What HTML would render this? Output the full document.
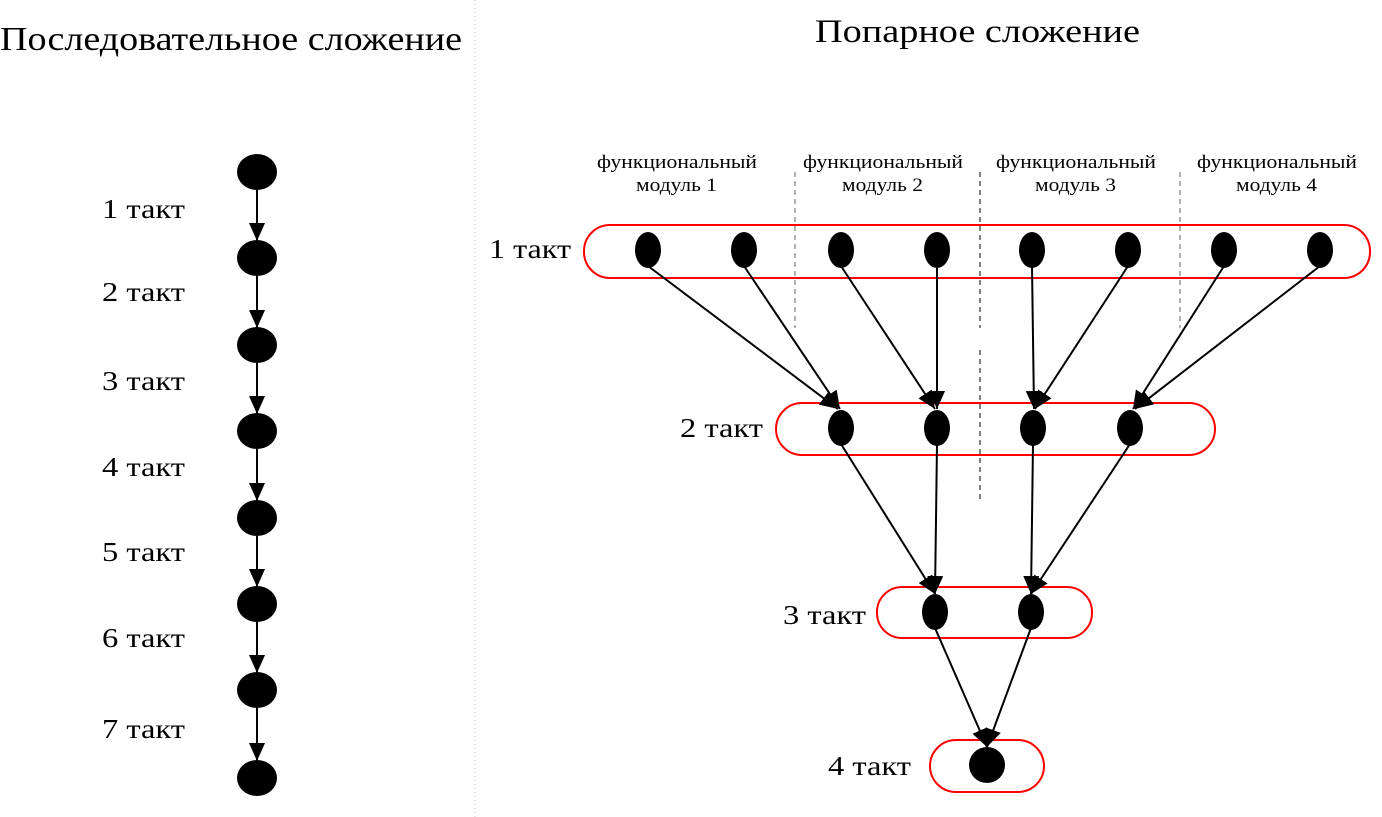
<!DOCTYPE html>
<html><head><meta charset="utf-8"><style>
body{margin:0;background:#fff}
svg{display:block;font-family:"Liberation Serif",serif}
</style></head><body>
<svg width="1382" height="817" viewBox="0 0 1382 817">
<defs>
<marker id="b" markerWidth="20" markerHeight="16" refX="18" refY="8" orient="auto" markerUnits="userSpaceOnUse"><path d="M0,0 L18,8 L0,16 z" fill="#000"/></marker></defs>
<line x1="475" y1="0" x2="475" y2="817" stroke="#ccc" stroke-dasharray="1,3"/>
<text x="0" y="50" font-size="34" textLength="462" lengthAdjust="spacingAndGlyphs">Последовательное сложение</text>
<text x="815" y="42" font-size="33" textLength="325" lengthAdjust="spacingAndGlyphs">Попарное сложение</text>
<g font-size="27">
<text x="102" y="218" textLength="83" lengthAdjust="spacingAndGlyphs">1 такт</text><text x="102" y="301" textLength="83" lengthAdjust="spacingAndGlyphs">2 такт</text><text x="102" y="390" textLength="83" lengthAdjust="spacingAndGlyphs">3 такт</text><text x="102" y="476" textLength="83" lengthAdjust="spacingAndGlyphs">4 такт</text><text x="102" y="561" textLength="83" lengthAdjust="spacingAndGlyphs">5 такт</text><text x="102" y="647" textLength="83" lengthAdjust="spacingAndGlyphs">6 такт</text><text x="102" y="738" textLength="83" lengthAdjust="spacingAndGlyphs">7 такт</text>
<text x="489" y="258" textLength="82" lengthAdjust="spacingAndGlyphs">1 такт</text><text x="680" y="437" textLength="83" lengthAdjust="spacingAndGlyphs">2 такт</text><text x="783" y="624" textLength="83" lengthAdjust="spacingAndGlyphs">3 такт</text><text x="828" y="775" textLength="83" lengthAdjust="spacingAndGlyphs">4 такт</text>
</g>
<g stroke="#000" stroke-width="2" marker-end="url(#b)">
<line x1="257" y1="190" x2="257" y2="241"/><line x1="257" y1="276" x2="257" y2="328"/><line x1="257" y1="363" x2="257" y2="414"/><line x1="257" y1="449" x2="257" y2="501"/><line x1="257" y1="536" x2="257" y2="587"/><line x1="257" y1="622" x2="257" y2="673"/><line x1="257" y1="708" x2="257" y2="761"/>
</g>
<g fill="#000">
<ellipse cx="257" cy="172" rx="20" ry="18"/><ellipse cx="257" cy="258" rx="20" ry="18"/><ellipse cx="257" cy="345" rx="20" ry="18"/><ellipse cx="257" cy="431" rx="20" ry="18"/><ellipse cx="257" cy="518" rx="20" ry="18"/><ellipse cx="257" cy="604" rx="20" ry="18"/><ellipse cx="257" cy="690" rx="20" ry="18"/><ellipse cx="257" cy="778" rx="20" ry="18"/>
</g>
<g font-size="19">
<text x="597" y="168" textLength="160" lengthAdjust="spacingAndGlyphs">функциональный</text><text x="636" y="191" textLength="81" lengthAdjust="spacingAndGlyphs">модуль 1</text>
<text x="803" y="168" textLength="160" lengthAdjust="spacingAndGlyphs">функциональный</text><text x="842" y="191" textLength="81" lengthAdjust="spacingAndGlyphs">модуль 2</text>
<text x="996" y="168" textLength="160" lengthAdjust="spacingAndGlyphs">функциональный</text><text x="1035" y="191" textLength="81" lengthAdjust="spacingAndGlyphs">модуль 3</text>
<text x="1197" y="168" textLength="160" lengthAdjust="spacingAndGlyphs">функциональный</text><text x="1236" y="191" textLength="81" lengthAdjust="spacingAndGlyphs">модуль 4</text>
</g>
<g stroke="#666" stroke-dasharray="5,4" stroke-width="1">
<line x1="795" y1="172" x2="795" y2="328"/><line x1="1180" y1="172" x2="1180" y2="328"/>
</g>
<g stroke="#000" stroke-dasharray="5,4" stroke-width="1">
<line x1="980" y1="172" x2="980" y2="328"/><line x1="980" y1="350" x2="980" y2="502"/>
</g>
<g fill="none" stroke="#f00" stroke-width="2">
<rect x="584" y="225" width="786" height="53" rx="26"/>
<rect x="776" y="403" width="439" height="52" rx="26"/>
<rect x="877" y="587" width="215" height="51" rx="25"/>
<rect x="930" y="740" width="114" height="52" rx="26"/>
</g>
<g stroke="#000" stroke-width="2" marker-end="url(#b)">
<line x1="648" y1="266" x2="838" y2="409"/><line x1="744" y1="266" x2="840" y2="409"/>
<line x1="841" y1="266" x2="935" y2="409"/><line x1="937" y1="266" x2="937" y2="409"/>
<line x1="1032" y1="266" x2="1034" y2="409"/><line x1="1128" y1="266" x2="1035" y2="409"/>
<line x1="1224" y1="266" x2="1133" y2="409"/><line x1="1320" y1="266" x2="1135" y2="409"/>
<line x1="841" y1="444" x2="935" y2="594"/><line x1="937" y1="444" x2="935" y2="594"/>
<line x1="1033" y1="444" x2="1031" y2="594"/><line x1="1130" y1="444" x2="1031" y2="594"/>
<line x1="935" y1="628" x2="987" y2="747"/><line x1="1031" y1="628" x2="987" y2="747"/>
</g>
<g fill="#000">
<ellipse cx="648" cy="250" rx="13" ry="18"/><ellipse cx="744" cy="250" rx="13" ry="18"/><ellipse cx="841" cy="250" rx="13" ry="18"/><ellipse cx="937" cy="250" rx="13" ry="18"/><ellipse cx="1032" cy="250" rx="13" ry="18"/><ellipse cx="1128" cy="250" rx="13" ry="18"/><ellipse cx="1224" cy="250" rx="13" ry="18"/><ellipse cx="1320" cy="250" rx="13" ry="18"/>
<ellipse cx="841" cy="428" rx="13" ry="18"/><ellipse cx="937" cy="428" rx="13" ry="18"/><ellipse cx="1033" cy="428" rx="13" ry="18"/><ellipse cx="1130" cy="428" rx="13" ry="18"/>
<ellipse cx="935" cy="612" rx="13" ry="18"/><ellipse cx="1031" cy="612" rx="13" ry="18"/>
<ellipse cx="987" cy="765" rx="18" ry="18"/>
</g>
</svg>
</body></html>
